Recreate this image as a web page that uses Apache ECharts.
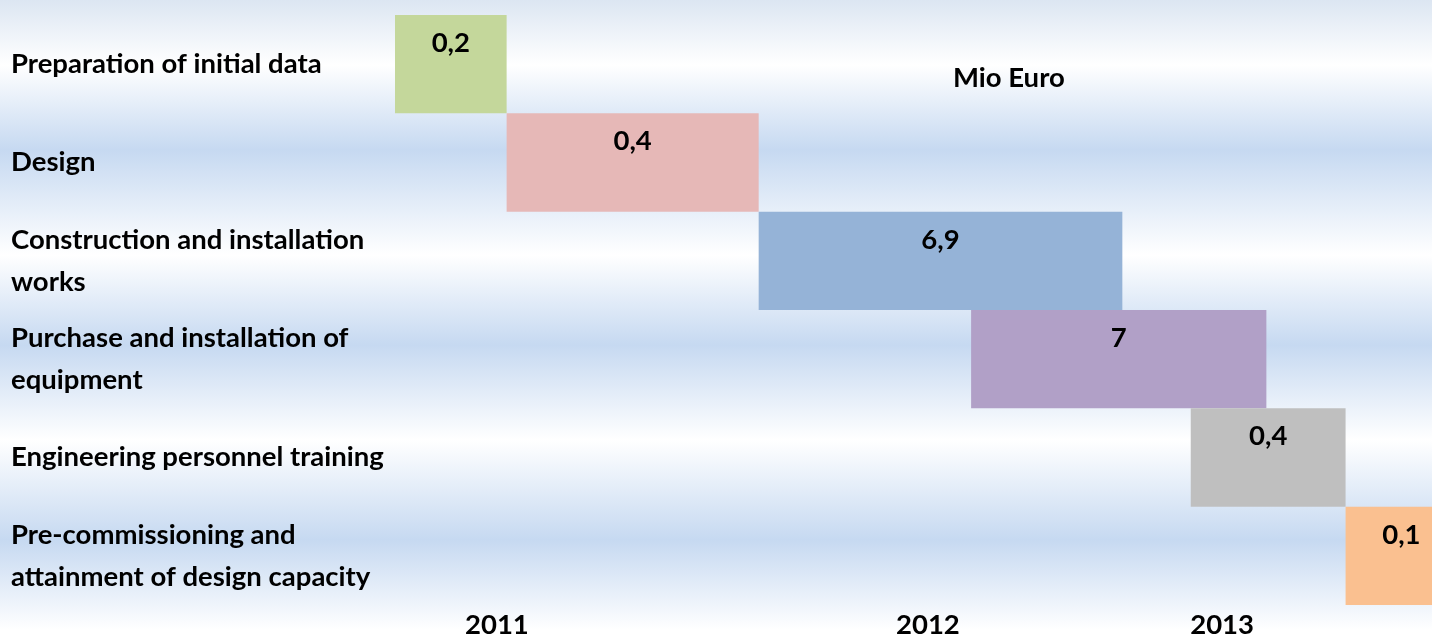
<!DOCTYPE html>
<html>
<head>
<meta charset="utf-8">
<title>Project schedule</title>
<script src="https://cdn.jsdelivr.net/npm/echarts@6/dist/echarts.min.js"></script>
<style>
    html, body { margin: 0; padding: 0; }
    #main {
        width: 1432px;
        height: 637px;
        background: linear-gradient(to bottom,
            #dce6f2 0px, #ffffff 65px, #c6d9f1 150px, #ffffff 255px,
            #c6d9f1 345px, #ffffff 440px, #c6d9f1 540px, #ffffff 630px, #ffffff 637px);
    }
</style>
</head>
<body>
<div id="main"></div>
<script>
// tasks, top to bottom
var tasks = [
    'Preparation of initial data',
    'Design',
    'Construction and installation\nworks',
    'Purchase and installation of\nequipment',
    'Engineering personnel training',
    'Pre-commissioning and\nattainment of design capacity'
];
// start / end in months counted from the start of the first task
var startMonth = [0, 3.1, 10.1, 16.0, 22.1, 26.4];
var endMonth = [3.1, 10.1, 20.2, 24.2, 26.4, 29.5];
// cost, Mio Euro
var costs = [0.2, 0.4, 6.9, 7, 0.4, 0.1];
// year labels on the time axis
var yearLabels = ['2011', '2012', '2013'];
var yearTicks = [2.83, 14.8, 22.97];

var barColors = ['#c4d79b', '#e6b8b7', '#95b3d7', '#b1a0c7', '#bfbfbf', '#fac090'];
var fontName = 'Lato';
var fontSize = 27.5;

function fmtCost(v) {
    return String(v).replace('.', ',');
}

var chartData = [];
for (var i = 0; i < tasks.length; i++) {
    chartData.push([i, startMonth[i], endMonth[i], costs[i]]);
}

function renderItem(params, api) {
    var cat = api.value(0);
    var start = api.coord([api.value(1), cat]);
    var end = api.coord([api.value(2), cat]);
    var h = api.size([0, 1])[1];
    var y0 = start[1] - h / 2;
    var cs = params.coordSys;
    var rect = echarts.graphic.clipRectByRect(
        { x: start[0], y: y0, width: end[0] - start[0], height: h },
        { x: cs.x, y: cs.y, width: cs.width, height: cs.height }
    );
    return {
        type: 'group',
        children: [
            {
                type: 'rect',
                shape: rect,
                style: { fill: barColors[params.dataIndex] }
            },
            {
                type: 'text',
                style: {
                    x: (start[0] + end[0]) / 2,
                    y: y0 + 14,
                    text: fmtCost(api.value(3)),
                    align: 'center',
                    verticalAlign: 'top',
                    font: 'bold ' + fontSize + 'px ' + fontName,
                    fill: '#000'
                }
            }
        ]
    };
}

var myChart = echarts.init(document.getElementById('main'));
var option = {
    backgroundColor: 'transparent',
    animation: false,
    grid: {
        left: 395,
        right: 0,
        top: 15,
        bottom: 32,
        outerBoundsMode: 'none'
    },
    xAxis: {
        type: 'value',
        min: 0,
        max: 28.8,
        axisLine: { show: false },
        axisTick: { show: false },
        splitLine: { show: false },
        axisLabel: {
            customValues: yearTicks,
            margin: 6,
            color: '#000',
            fontFamily: fontName,
            fontWeight: 'bold',
            fontSize: fontSize,
            formatter: function (v) {
                for (var k = 0; k < yearTicks.length; k++) {
                    if (Math.abs(yearTicks[k] - v) < 0.01) {
                        return yearLabels[k];
                    }
                }
                return '';
            }
        }
    },
    yAxis: {
        type: 'category',
        data: tasks,
        inverse: true,
        axisLine: { show: false },
        axisTick: { show: false },
        splitLine: { show: false },
        axisLabel: {
            align: 'left',
            margin: 384,
            color: '#000',
            fontFamily: fontName,
            fontWeight: 'bold',
            fontSize: fontSize,
            lineHeight: 42
        }
    },
    graphic: [{
        type: 'text',
        left: 953,
        top: 64,
        style: {
            text: 'Mio Euro',
            font: 'bold ' + fontSize + 'px ' + fontName,
            fill: '#000'
        }
    }],
    series: [{
        type: 'custom',
        renderItem: renderItem,
        encode: { x: [1, 2], y: 0 },
        data: chartData
    }]
};
myChart.setOption(option);
</script>
</body>
</html>
